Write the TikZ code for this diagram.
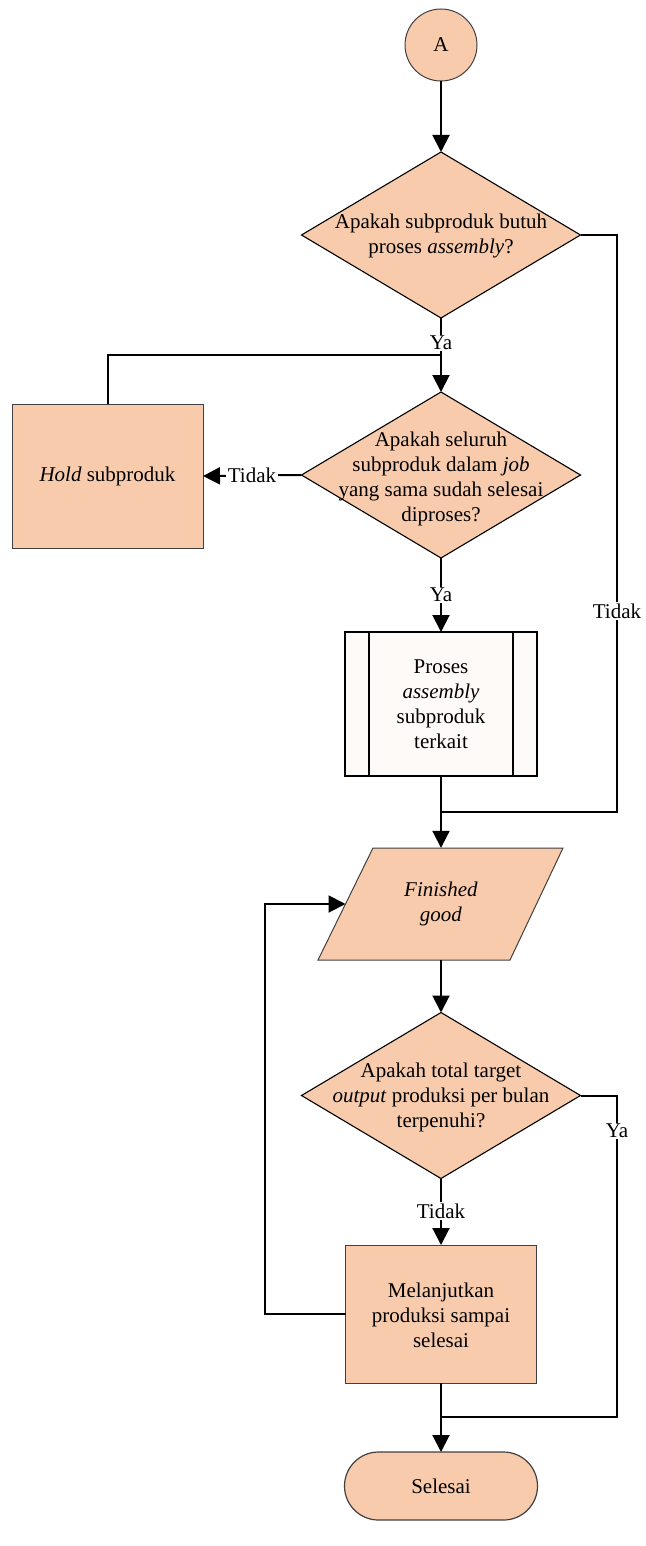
\documentclass[tikz,border=0pt]{standalone}
\usepackage{fontspec}
\setmainfont{Liberation Serif}
\usetikzlibrary{shapes.geometric,arrows.meta}
\definecolor{peach}{HTML}{F8CBAD}
\definecolor{subfill}{HTML}{FEFAF7}
\definecolor{edge}{HTML}{404040}
\begin{document}
\begin{tikzpicture}[x=1pt,y=-1pt,
  every node/.style={font=\fontsize{21}{25}\selectfont},
  conn/.style={line width=2pt},
  arr/.style={conn,-{Triangle[length=17pt,width=17pt]}},
  dia/.style={diamond,draw,fill=peach,line width=1.1pt,inner sep=0pt,outer sep=0pt,minimum width=279pt,minimum height=166pt},
  proc/.style={rectangle,draw=edge,fill=peach,line width=1pt,inner sep=0pt,outer sep=0pt},
  lbl/.style={fill=white,inner sep=1.5pt},
  txt/.style={align=center,inner sep=0pt}
]
\useasboundingbox (0,0) rectangle (645,1546);

% nodes
\node[circle,draw=edge,fill=peach,line width=1pt,minimum size=72pt,inner sep=0pt,outer sep=0pt] (A) at (441,45) {A};
\node[dia] (d1) at (441,235) {};
\node[txt] at (441,236) {Apakah subproduk butuh\\proses \textit{assembly}?};
\node[dia] (d2) at (441,475) {};
\node[txt] at (441,479) {Apakah seluruh\\subproduk dalam \textit{job}\\yang sama sudah selesai\\diproses?};
\node[proc,minimum width=191pt,minimum height=144pt] (hold) at (107.5,476) {\textit{Hold} subproduk};
\node[rectangle,draw,fill=subfill,line width=2pt,inner sep=0pt,outer sep=0pt,minimum width=192pt,minimum height=144pt] (sp) at (441,704) {};
\draw[line width=2pt] ([xshift=24pt]sp.north west) -- ([xshift=24pt]sp.south west);
\draw[line width=2pt] ([xshift=-24pt]sp.north east) -- ([xshift=-24pt]sp.south east);
\node[txt] at (441,704) {Proses\\\textit{assembly}\\subproduk\\terkait};
\draw[draw=edge,fill=peach,line width=1pt] (373,848) -- (563,848) -- (510,960) -- (318,960) -- cycle;
\node[txt,minimum width=190pt,minimum height=112pt] (fg) at (441,904) {\textit{Finished}\\\textit{good}};
\node[dia] (d3) at (441,1095.5) {};
\node[txt] at (441,1097) {Apakah total target\\\textit{output} produksi per bulan\\terpenuhi?};
\node[proc,minimum width=191pt,minimum height=138pt] (pr) at (441,1314) {};
\node[txt] at (441,1315) {Melanjutkan\\produksi sampai\\selesai};
\node[rectangle,rounded corners=34pt,draw=edge,fill=peach,line width=1.2pt,inner sep=0pt,outer sep=0pt,minimum width=193pt,minimum height=68pt] (end) at (441,1486) {Selesai};

% coordinates
\coordinate (j1) at (441,355);
\coordinate (j2r) at (617,812);
\coordinate (j2) at (441,812);
\coordinate (lp) at (265,904);
\coordinate (fgL) at (345.5,904);
\coordinate (j3r) at (617,1417);
\coordinate (j3) at (441,1417);

% connectors
\draw[arr] (A) -- (d1);
\draw[arr] (d1.south) -- (d2.north);
\draw[conn] (hold.north) |- (j1);
\draw[arr] (d2.west) -- (hold.east);
\draw[arr] (d2.south) -- (sp.north);
\draw[conn] (d1.east) -| (j2r) -- (j2);
\draw[arr] (sp.south) -- (fg.north);
\draw[arr] (fg.south) -- (d3.north);
\draw[arr] (d3.south) -- (pr.north);
\draw[arr] (pr.west) -| (lp) -- (fgL);
\draw[conn] (d3.east) -| (j3r) -- (j3);
\draw[arr] (pr.south) -- (end.north);

% labels
\node[lbl] at (441,343) {Ya};
\node[lbl] at (252,475) {Tidak};
\node[lbl] at (441,595) {Ya};
\node[lbl] at (617,611) {Tidak};
\node[lbl] at (441,1211) {Tidak};
\node[lbl] at (617,1131) {Ya};
\end{tikzpicture}
\end{document}
